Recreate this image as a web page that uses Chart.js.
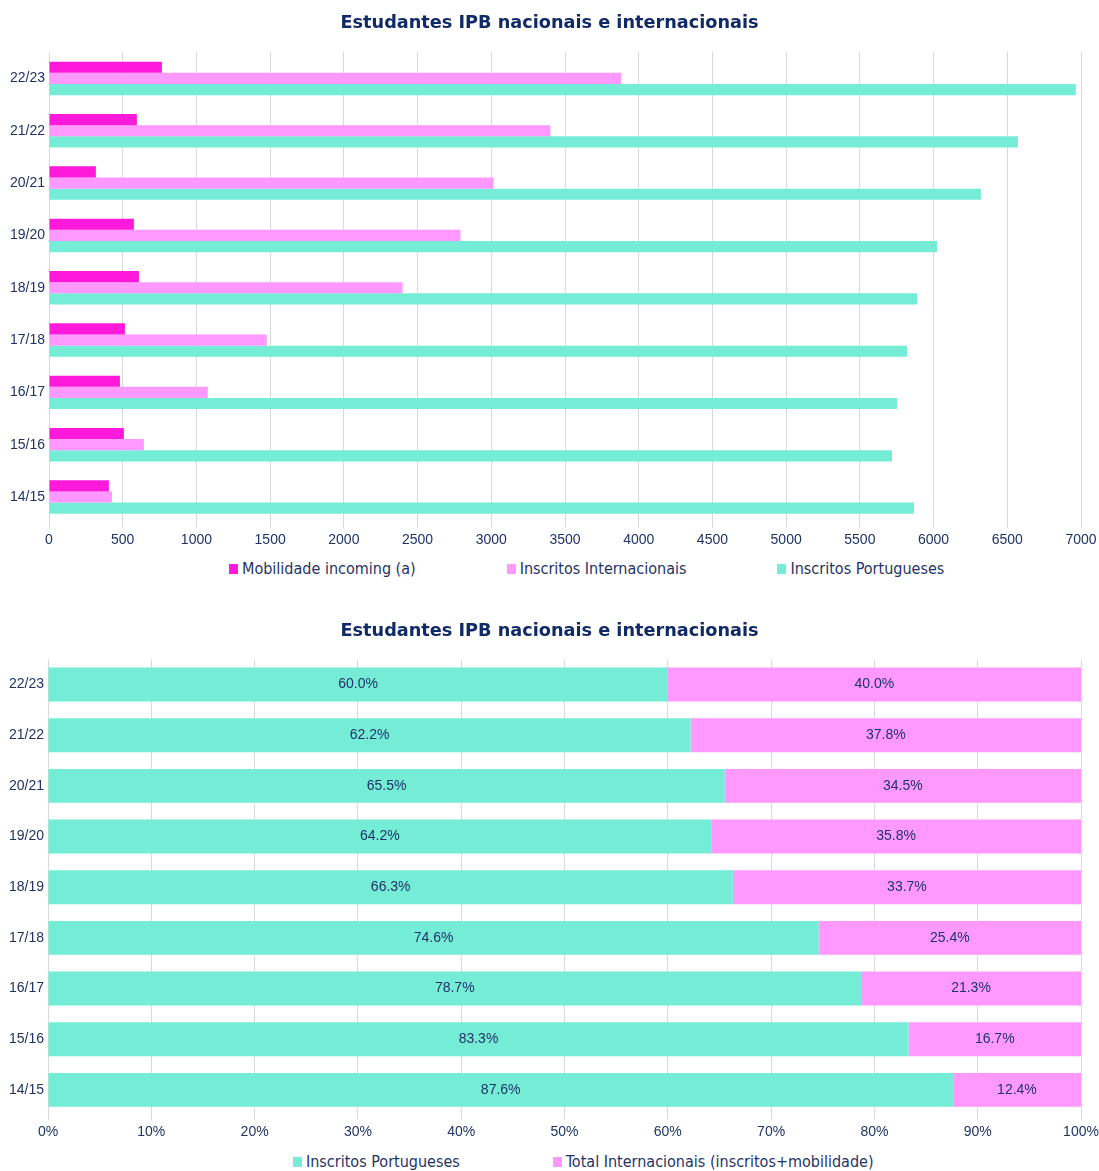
<!DOCTYPE html>
<html>
<head>
<meta charset="utf-8">
<script src="https://cdn.jsdelivr.net/npm/chart.js@4.4.0/dist/chart.umd.min.js"></script>
<style>
  html, body { margin: 0; padding: 0; background: #fff; }
  body { width: 1099px; height: 1171px; position: relative; overflow: hidden; }
  .wrap { position: absolute; left: 0; width: 1099px; }
  .legend { position: absolute; left: 0; width: 1099px; height: 22px; line-height: 22px;
            display: flex; justify-content: flex-start; box-sizing: border-box;
            font-family: "DejaVu Sans Condensed", "DejaVu Sans", sans-serif; font-stretch: condensed;
            font-size: 16px; color: #1F3366; white-space: nowrap; }
  .legend span.item { display: inline-flex; align-items: center; }
  .legend span.box { display: inline-block; width: 9px; height: 10px; margin-right: 4px; }
</style>
</head>
<body>
<div class="wrap" style="top:0;height:553px"><canvas id="chartCount"></canvas></div>
<div class="legend" id="legend1" style="top:558px;padding-left:229px"></div>
<div class="wrap" style="top:600px;height:545px"><canvas id="chartShare"></canvas></div>
<div class="legend" id="legend2" style="top:1151px;padding-left:293px"></div>

<script>
// academic years, newest first (top of the chart)
const years = ['22/23', '21/22', '20/21', '19/20', '18/19', '17/18', '16/17', '15/16', '14/15'];

// chart 1: number of students
const mobilidadeIncoming = [766, 596, 318, 576, 610, 515, 481, 508, 406];
const inscritosInternacionais = [3882, 3401, 3015, 2791, 2398, 1477, 1077, 644, 427];
const inscritosPortugueses = [6965, 6572, 6321, 6023, 5888, 5820, 5752, 5718, 5867];

// chart 2: share of students (%)
const pctPortugueses = [60.0, 62.2, 65.5, 64.2, 66.3, 74.6, 78.7, 83.3, 87.6];
const pctInternacionais = [40.0, 37.8, 34.5, 35.8, 33.7, 25.4, 21.3, 16.7, 12.4];

const countTicks = [0, 7000, 500];

const NAVY = '#1F3366';
const MAGENTA = '#FF1ADB';
const PINK = '#FF99FF';
const TEAL = '#75EDD6';
const GRID = '#D9D9D9';

const titleFont = { family: '"DejaVu Sans", sans-serif', size: 17.7, weight: 'bold' };
const tickFont = { family: '"Liberation Sans", Arial, sans-serif', size: 14 };

function fixedWidth(w) {
    return function (scale) { scale.width = w; };
}

// keep the plot's right edge at a fixed gap without shifting the title
function rightGap(g) {
    return function (scale) { scale.paddingRight = g; scale.paddingLeft = 0; };
}

function buildLegend(id, items) {
    const el = document.getElementById(id);
    items.forEach(function (it, i) {
        const span = document.createElement('span');
        span.className = 'item';
        if (i > 0) span.style.marginLeft = it.gap + 'px';
        const box = document.createElement('span');
        box.className = 'box';
        box.style.background = it.color;
        span.appendChild(box);
        span.appendChild(document.createTextNode(it.label));
        el.appendChild(span);
    });
}

new Chart(document.getElementById('chartCount'), {
    type: 'bar',
    data: {
        labels: years,
        datasets: [{
            label: 'Mobilidade incoming (a)',
            data: mobilidadeIncoming,
            backgroundColor: MAGENTA
        }, {
            label: 'Inscritos Internacionais',
            data: inscritosInternacionais,
            backgroundColor: PINK
        }, {
            label: 'Inscritos Portugueses',
            data: inscritosPortugueses,
            backgroundColor: TEAL
        }]
    },
    options: {
        indexAxis: 'y',
        responsive: true,
        maintainAspectRatio: false,
        animation: false,
        datasets: { bar: { barPercentage: 1, categoryPercentage: 0.64 } },
        layout: { padding: 0 },
        plugins: {
            legend: { display: false },
            tooltip: { enabled: false },
            title: {
                display: true,
                text: 'Estudantes IPB nacionais e internacionais',
                color: '#0F2A66',
                font: titleFont,
                padding: { top: 13, bottom: 18 }
            }
        },
        scales: {
            x: {
                min: countTicks[0],
                max: countTicks[1],
                ticks: { stepSize: countTicks[2], color: NAVY, font: tickFont, padding: 4,
                         callback: v => String(v) },
                grid: { color: GRID, tickLength: 5 },
                border: { display: false },
                afterFit: rightGap(18)
            },
            y: {
                ticks: { color: NAVY, font: tickFont, padding: 4 },
                grid: { display: false, drawTicks: false },
                border: { color: GRID },
                afterFit: fixedWidth(49)
            }
        }
    }
});

buildLegend('legend1', [
    { label: 'Mobilidade incoming (a)', color: MAGENTA, gap: 0 },
    { label: 'Inscritos Internacionais', color: PINK, gap: 91 },
    { label: 'Inscritos Portugueses', color: TEAL, gap: 91 }
]);

// writes each segment's value in the middle of its bar
const centerLabels = {
    id: 'centerLabels',
    afterDatasetsDraw(chart) {
        const ctx = chart.ctx;
        ctx.save();
        ctx.font = '14px "Liberation Sans", Arial, sans-serif';
        ctx.fillStyle = NAVY;
        ctx.textAlign = 'center';
        ctx.textBaseline = 'middle';
        chart.data.datasets.forEach(function (ds, di) {
            chart.getDatasetMeta(di).data.forEach(function (bar, i) {
                const cx = (bar.x + bar.base) / 2;
                ctx.fillText(ds.data[i].toFixed(1) + '%', cx, bar.y);
            });
        });
        ctx.restore();
    }
};

new Chart(document.getElementById('chartShare'), {
    type: 'bar',
    data: {
        labels: years,
        datasets: [{
            label: 'Inscritos Portugueses',
            data: pctPortugueses,
            backgroundColor: TEAL
        }, {
            label: 'Total Internacionais (inscritos+mobilidade)',
            data: pctInternacionais,
            backgroundColor: PINK
        }]
    },
    options: {
        indexAxis: 'y',
        responsive: true,
        maintainAspectRatio: false,
        animation: false,
        datasets: { bar: { barPercentage: 0.67, categoryPercentage: 1 } },
        layout: { padding: 0 },
        plugins: {
            legend: { display: false },
            tooltip: { enabled: false },
            title: {
                display: true,
                text: 'Estudantes IPB nacionais e internacionais',
                color: '#0F2A66',
                font: titleFont,
                padding: { top: 21, bottom: 17 }
            }
        },
        scales: {
            x: {
                stacked: true,
                min: 0,
                max: 100,
                ticks: { stepSize: 10, color: NAVY, font: tickFont, padding: 4,
                         callback: v => v + '%' },
                grid: { color: GRID, tickLength: 5 },
                border: { display: false },
                afterFit: rightGap(18)
            },
            y: {
                stacked: true,
                ticks: { color: NAVY, font: tickFont, padding: 4 },
                grid: { display: false, drawTicks: false },
                border: { display: false },
                afterFit: fixedWidth(48)
            }
        }
    },
    plugins: [centerLabels]
});

buildLegend('legend2', [
    { label: 'Inscritos Portugueses', color: TEAL, gap: 0 },
    { label: 'Total Internacionais (inscritos+mobilidade)', color: PINK, gap: 93 }
]);
</script>
</body>
</html>
